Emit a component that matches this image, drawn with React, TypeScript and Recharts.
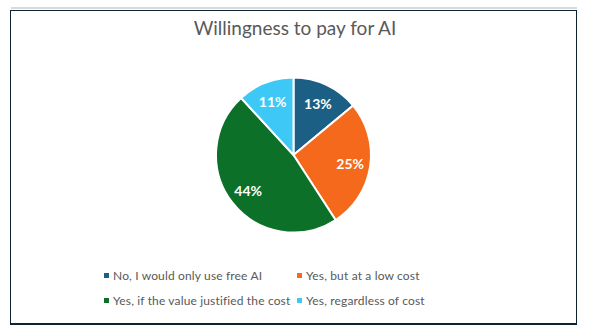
import { PieChart, Pie, Cell, Legend } from 'recharts';

const categories = [
  'No, I would only use free AI',
  'Yes, but at a low cost',
  'Yes, if the value justified the cost',
  'Yes, regardless of cost',
];
const shares = [13, 25, 44, 11];
const colors = ['#1b5f85', '#f4691b', '#0c7029', '#3ec8f5'];

const data = categories.map((name, i) => ({ name, value: shares[i] }));

const RAD = Math.PI / 180;
const FONT = 'Lato, "Open Sans", sans-serif';

const renderLabel = (props: any) => {
  const { cx, cy, midAngle, outerRadius, value } = props;
  const r = outerRadius * 0.74;
  const x = cx + r * Math.cos(-midAngle * RAD);
  const y = cy + r * Math.sin(-midAngle * RAD);
  return (
    <text
      x={x}
      y={y}
      fill="#ffffff"
      textAnchor="middle"
      dominantBaseline="central"
      style={{ fontFamily: FONT, fontSize: 14, fontWeight: 700 }}
    >
      {`${value}%`}
    </text>
  );
};

const LegendGrid = () => (
  <div
    style={{
      display: 'grid',
      gridTemplateColumns: '193px 200px',
      rowGap: 8,
      fontFamily: FONT,
      fontSize: 12,
      color: '#595959',
      letterSpacing: 0.15,
    }}
  >
    {data.map((d, i) => (
      <div key={d.name} style={{ display: 'flex', alignItems: 'center', height: 17 }}>
        <span
          style={{
            display: 'inline-block',
            width: 5,
            height: 5,
            background: colors[i],
            marginRight: 4,
          }}
        />
        {d.name}
      </div>
    ))}
  </div>
);

export default function App() {
  return (
    <div style={{ position: 'absolute', left: 0, top: 0, width: 590, height: 333, background: '#fff' }}>
      <div style={{ position: 'absolute', left: 11, top: 7, width: 566, height: 2, background: '#d9d9d9' }} />
      <div
        style={{
          position: 'absolute',
          left: 10,
          top: 10,
          width: 565,
          height: 312,
          border: '1.5px solid #0d2430',
          borderBottomWidth: 2.5,
        }}
      />
      <div
        style={{
          position: 'absolute',
          left: 0,
          top: 16,
          width: 590,
          textAlign: 'center',
          fontFamily: FONT,
          fontSize: 19,
          color: '#595959',
        }}
      >
        Willingness to pay for AI
      </div>
      <div style={{ position: 'absolute', left: 0, top: 0 }}>
        <PieChart width={590} height={333} margin={{ top: 0, right: 0, bottom: 0, left: 0 }}>
          <Pie
            data={data}
            dataKey="value"
            nameKey="name"
            cx={293.5}
            cy={155}
            outerRadius={77.5}
            startAngle={90}
            endAngle={-270}
            stroke="#ffffff"
            strokeWidth={2}
            label={renderLabel}
            labelLine={false}
            isAnimationActive={false}
          >
            {data.map((d, i) => (
              <Cell key={d.name} fill={colors[i]} />
            ))}
          </Pie>
          <Legend
            content={<LegendGrid />}
            wrapperStyle={{ position: 'absolute', left: 104, top: 267, width: 400 }}
          />
        </PieChart>
      </div>
    </div>
  );
}
